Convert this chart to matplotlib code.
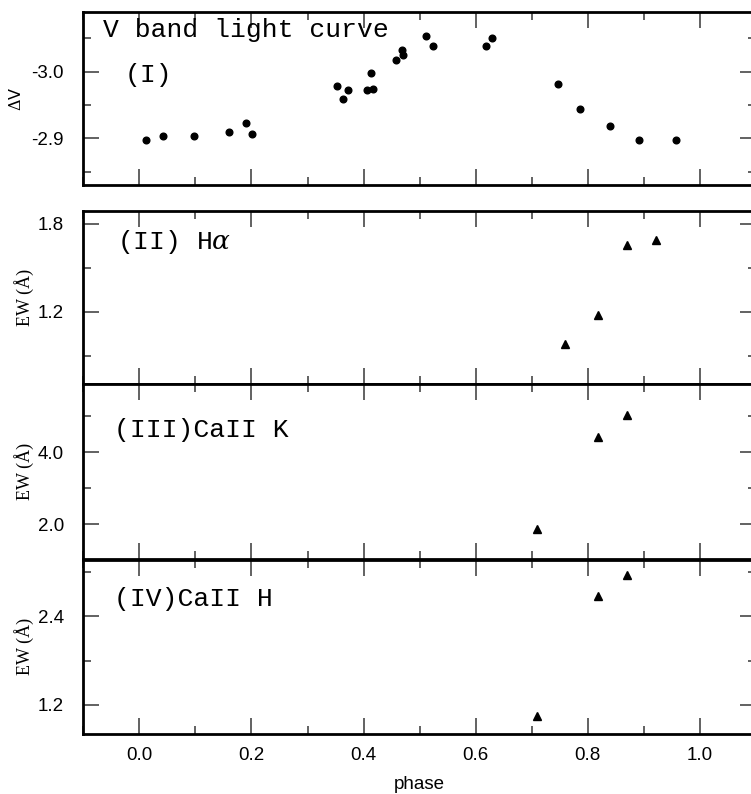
import matplotlib
matplotlib.use("Agg")
import matplotlib.pyplot as plt
from matplotlib.ticker import MultipleLocator, FormatStrFormatter

plt.rcParams['axes.unicode_minus'] = False
plt.rcParams['mathtext.fontset'] = 'dejavuserif'
plt.rcParams['font.family'] = ['Liberation Sans', 'DejaVu Sans']

# V band light curve
v_phase = [0.012, 0.043, 0.097, 0.160, 0.190, 0.201, 0.352, 0.363, 0.373, 0.406,
           0.414, 0.416, 0.458, 0.468, 0.470, 0.512, 0.523, 0.619, 0.629, 0.746,
           0.786, 0.839, 0.892, 0.958]
dv = [-2.897, -2.903, -2.903, -2.909, -2.923, -2.907, -2.978, -2.959, -2.972, -2.972,
      -2.998, -2.974, -3.018, -3.032, -3.025, -3.054, -3.039, -3.039, -3.050, -2.981,
      -2.944, -2.919, -2.898, -2.897]

# equivalent widths
ha_phase = [0.760, 0.819, 0.870, 0.921]
ha_ew = [0.985, 1.182, 1.657, 1.686]
cak_phase = [0.710, 0.819, 0.870]
cak_ew = [1.86, 4.41, 5.03]
cah_phase = [0.710, 0.819, 0.870]
cah_ew = [1.05, 2.67, 2.96]

W, H = 751, 794
fig = plt.figure(figsize=(W / 100, H / 100), dpi=100)


def box(top, bottom, left=83.3, right=756):
    return [left / W, 1 - bottom / H, (right - left) / W, (bottom - top) / H]


def style(ax, major, minor, ylim, fmt):
    ax.set_xlim(-0.1, 1.1)
    ax.set_ylim(*ylim)
    ax.xaxis.set_major_locator(MultipleLocator(0.2))
    ax.xaxis.set_minor_locator(MultipleLocator(0.1))
    ax.yaxis.set_major_locator(MultipleLocator(major))
    ax.yaxis.set_minor_locator(MultipleLocator(minor))
    ax.yaxis.set_major_formatter(FormatStrFormatter(fmt))
    ax.xaxis.set_major_formatter(FormatStrFormatter('%.1f'))
    ax.tick_params(which='both', direction='in', top=True, right=True,
                   color='#555555', width=1.3)
    ax.tick_params(which='major', length=11.5)
    ax.tick_params(which='minor', length=6)
    ax.tick_params(axis='y', labelsize=13.5, pad=14)
    ax.tick_params(axis='x', labelsize=13.5, pad=9)
    for s in ax.spines.values():
        s.set_linewidth(2)
    ax.tick_params(labelbottom=False)


serif = 'Liberation Mono'
tsize = 19

ax1 = fig.add_axes(box(11.7, 185))
ax1.plot(v_phase, dv, 'o', color='black', ms=4.8)
style(ax1, 0.1, 0.05, (-2.83, -3.09), '%.1f')
ax1.text(0.029, 0.854, 'V band light curve', transform=ax1.transAxes,
         family=serif, fontsize=tsize, va='baseline')
ax1.text(0.062, 0.594, '(I)', transform=ax1.transAxes,
         family=serif, fontsize=tsize, va='baseline')
ax1.text(-0.1, 0.5, r'$\Delta$V', transform=ax1.transAxes, rotation=90,
         ha='center', va='center', fontsize=11.5, family='DejaVu Sans')

ax2 = fig.add_axes(box(210.5, 384))
ax2.plot(ha_phase, ha_ew, '^', color='black', ms=6)
style(ax2, 0.6, 0.3, (0.71, 1.89), '%.1f')
ax2.text(0.050, 0.778, r'(II) H$\alpha$', transform=ax2.transAxes,
         family=serif, fontsize=tsize, va='baseline')

ax3 = fig.add_axes(box(384, 559))
ax3.plot(cak_phase, cak_ew, '^', color='black', ms=6)
style(ax3, 2.0, 1.0, (1.03, 5.89), '%.1f')
ax3.text(0.0456, 0.697, '(III)CaII K', transform=ax3.transAxes,
         family=serif, fontsize=tsize, va='baseline')

ax4 = fig.add_axes(box(559.5, 734))
ax4.plot(cah_phase, cah_ew, '^', color='black', ms=6)
style(ax4, 1.2, 0.6, (0.806, 3.17), '%.1f')
ax4.text(0.0456, 0.734, '(IV)CaII H', transform=ax4.transAxes,
         family=serif, fontsize=tsize, va='baseline')
ax4.tick_params(labelbottom=True)
ax4.set_xlabel('phase', fontsize=13.5, labelpad=9)

for ax in (ax2, ax3, ax4):
    ax.text(-0.088, 0.5, 'EW (Å)', transform=ax.transAxes, rotation=90,
            ha='center', va='center', fontsize=13, family='Liberation Serif')

fig.savefig('out.png', dpi=100)
